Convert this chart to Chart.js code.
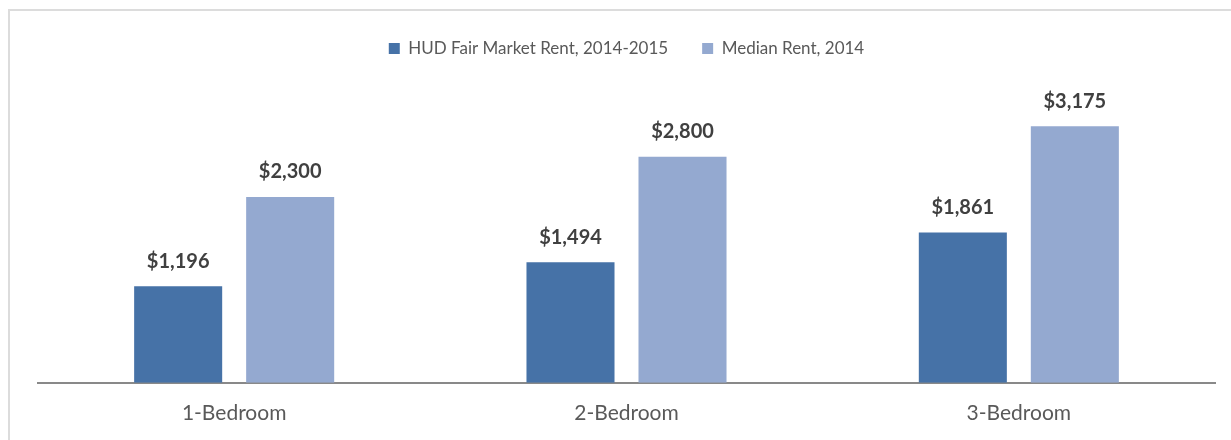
<!DOCTYPE html>
<html>
<head>
<meta charset="utf-8">
<script src="https://cdn.jsdelivr.net/npm/chart.js@4"></script>
<style>
  html, body { margin: 0; padding: 0; background: #fff; overflow: hidden; }
  #wrap { position: relative; width: 1231px; height: 440px; overflow: hidden; }
  #frame { position: absolute; left: 8px; top: 9px; width: 1240px; height: 450px;
           border: 2px solid #dcdcdc; pointer-events: none; }
</style>
</head>
<body>
<div id="wrap">
  <canvas id="rentChart" width="1231" height="444"></canvas>
  <div id="frame"></div>
</div>
<script>
  // chart data
  const categories = ['1-Bedroom', '2-Bedroom', '3-Bedroom'];
  const seriesNames = ['HUD Fair Market Rent, 2014-2015', 'Median Rent, 2014'];
  const hudRent = [1196, 1494, 1861];
  const medianRent = [2300, 2800, 3175];

  const fontFamily = 'Lato, "Open Sans", sans-serif';

  // draw value labels above each bar
  const barLabels = {
    id: 'barLabels',
    afterDatasetsDraw(chart) {
      const ctx = chart.ctx;
      ctx.save();
      ctx.font = 'bold 20px ' + fontFamily;
      ctx.fillStyle = '#404040';
      ctx.textAlign = 'center';
      ctx.textBaseline = 'middle';
      chart.data.datasets.forEach((ds, i) => {
        chart.getDatasetMeta(i).data.forEach((bar, j) => {
          ctx.fillText('$' + ds.data[j].toLocaleString('en-US'), bar.x, bar.y - 25);
        });
      });
      ctx.restore();
    }
  };

  const ctx = document.getElementById('rentChart').getContext('2d');
  new Chart(ctx, {
    type: 'bar',
    data: {
      labels: categories,
      datasets: [{
        label: seriesNames[0],
        data: hudRent,
        backgroundColor: '#4672A7'
      }, {
        label: seriesNames[1],
        data: medianRent,
        backgroundColor: '#94A9D0'
      }]
    },
    options: {
      responsive: false,
      animation: false,
      layout: { padding: { left: 38, right: 16, top: 6, bottom: 0 } },
      datasets: {
        bar: { categoryPercentage: 0.571, barPercentage: 0.786 }
      },
      scales: {
        x: {
          grid: { display: false, drawTicks: false },
          border: { display: true, color: '#898989', width: 2 },
          ticks: { color: '#595959', padding: 18, font: { family: fontFamily, size: 21 } }
        },
        y: {
          display: false,
          min: 0,
          max: 3910
        }
      },
      plugins: {
        legend: {
          position: 'top',
          labels: {
            color: '#595959',
            boxWidth: 11,
            boxHeight: 11,
            padding: 34,
            font: { family: fontFamily, size: 17 }
          }
        },
        tooltip: { enabled: false }
      }
    },
    plugins: [barLabels]
  });
</script>
</body>
</html>
